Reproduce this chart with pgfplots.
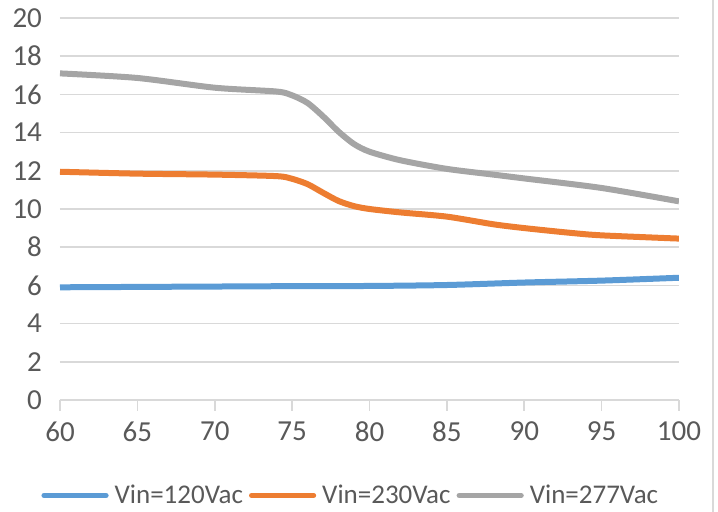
\documentclass[border=0pt]{standalone}
\usepackage{pgfplots}
\pgfplotsset{compat=1.18}
\usepackage{fontspec}
\setmainfont{Carlito}
\definecolor{cblue}{HTML}{5B9BD5}
\definecolor{corange}{HTML}{ED7D31}
\definecolor{cgray}{HTML}{A5A5A5}
\definecolor{gridc}{HTML}{D9D9D9}
\definecolor{txt}{HTML}{595959}
\begin{document}
\begin{tikzpicture}
\useasboundingbox (0,0) rectangle (359pt,256pt);
\draw[gridc, line width=1pt] (356.5pt,0) -- (356.5pt,256pt);
\begin{axis}[
  at={(30pt,56pt)}, anchor=south west,
  scale only axis, width=309.5pt, height=191pt,
  xmin=60, xmax=100, ymin=0, ymax=20,
  xtick={60,65,...,100}, ytick={0,2,...,20},
  axis x line*=bottom, axis y line*=left,
  x axis line style={draw=gridc, line width=0.8pt},
  y axis line style={draw=none},
  ymajorgrids, grid style={gridc, line width=0.8pt},
  major tick length=5.5pt,
  xtick style={draw=gridc, line width=0.8pt},
  ytick style={draw=none},
  tick align=outside,
  xtick pos=bottom,
  /pgf/number format/assume math mode=true,
  tick label style={font=\fontsize{14.5}{16}\selectfont, text=txt},
  xticklabel style={yshift=-2pt},
  yticklabel style={xshift=0pt},
  legend style={at={(0.473,-0.25)}, anchor=center, draw=none, fill=none,
    legend columns=3, font=\fontsize{13.5}{15}\selectfont, text=txt,
    /tikz/every even column/.append style={column sep=0pt},
    nodes={inner xsep=3pt}},
  legend image code/.code={\draw[#1, line width=2.6pt, line cap=round] (0pt,0pt) -- (31pt,0pt);},
  every axis plot/.append style={line width=3pt, smooth, tension=0.45},
]
\addplot[cblue] coordinates {
(60,5.9) (65,5.92) (70,5.94) (75,5.96) (80,5.97) (85,6.02) (90,6.15) (95,6.25) (100,6.4)};
\addlegendentry{Vin=120Vac}
\addplot[corange] coordinates {
(60,11.95) (65,11.85) (70,11.8) (74,11.72) (75,11.58) (76,11.3) (77,10.85) (78,10.42) (79,10.15) (80,10.0) (82,9.82) (85,9.6) (88,9.2) (90,9.0) (93,8.75) (95,8.62) (100,8.45)};
\addlegendentry{Vin=230Vac}
\addplot[cgray] coordinates {
(60,17.1) (65,16.86) (70,16.35) (74,16.15) (75,15.95) (76,15.55) (77,14.85) (78,14.05) (79,13.4) (80,13.0) (82,12.55) (85,12.1) (88,11.8) (90,11.6) (95,11.1) (100,10.4)};
\addlegendentry{Vin=277Vac}
\end{axis}
\end{tikzpicture}
\end{document}
